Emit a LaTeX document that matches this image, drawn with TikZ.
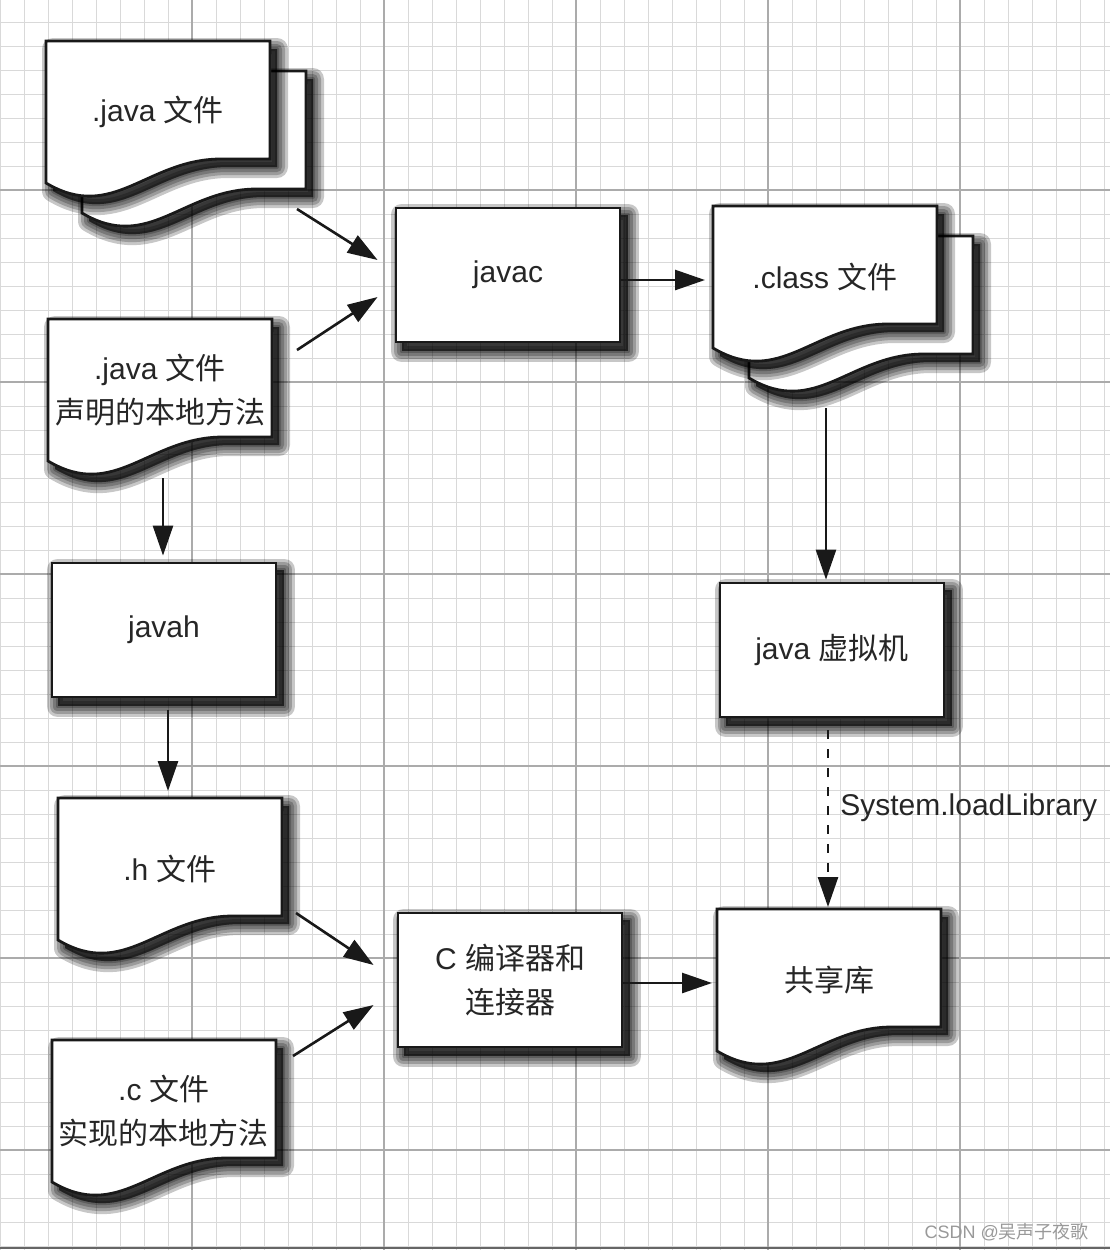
\documentclass[tikz,border=0pt]{standalone}
\usepackage{fontspec}
\setmainfont{Liberation Sans}
\newfontfamily\cjk{Noto Sans CJK SC}
\usepackage{tikz}
\usetikzlibrary{positioning,arrows.meta,calc}

\pgfdeclarelayer{grid}
\pgfdeclarelayer{shapes}
\pgfsetlayers{grid,shapes,main}

\tikzset{
  minorline/.style={draw=black!15, line width=0.5pt},
  majorline/.style={draw=black!33, line width=0.8pt},
  shadepass/.style={fill=black, draw=black, opacity=0.22, line join=round},
  procbox/.style={draw=black!90, line width=1.4pt, fill=white,
      minimum width=112pt, minimum height=67pt, align=center, text=black!85},
  docnode/.style={minimum width=112pt, minimum height=71pt, outer sep=0pt,
      inner sep=0pt, align=center, text=black!85},
  docface/.style={draw=black!90, line width=1.4pt, fill=white},
  arr/.style={line width=1.3pt, draw=black!90, -{Triangle[length=15pt,width=10pt]}},
  dasharr/.style={arr, dash pattern=on 4.5pt off 5pt},
}

% outline of a file sheet round node #1, moved by (#2,#3)
\newcommand\fileshape[3]{%
  ($(#1.north west)+(#2,#3)$) -- ($(#1.north east)+(#2,#3)$)
  -- ($(#1.south east)+(#2,#3-24)$) -- ($(#1.south east)+(#2-49,#3-24)$)
  .. controls ($(#1.south west)+(#2+101,#3-24)$) and ($(#1.south west)+(#2+67,#3+40)$)
  .. ($(#1.south west)+(#2,#3)$) -- cycle}
% soft shadow of a path
\newcommand\dropshade[1]{%
  \foreach \lw in {11pt,8pt,5pt,2pt} \path[shadepass, line width=\lw] #1;}
% shadow of a box node
\newcommand\boxshade[1]{%
  \dropshade{($(#1.north west)+(7,8)$) rectangle ($(#1.south east)+(7,8)$)}}

\begin{document}
\begin{tikzpicture}[x=0.5pt, y=-0.5pt, font=\fontsize{15}{22}\selectfont]
\useasboundingbox (0,0) rectangle (1110,1250);

% squared paper
\begin{pgfonlayer}{grid}
\fill[white] (0,0) rectangle (1110,1250);
\foreach \gx in {0,24,...,1104} \draw[minorline] (\gx,0) -- (\gx,1250);
\foreach \gy in {22,46,...,1246} \draw[minorline] (0,\gy) -- (1110,\gy);
\foreach \gx in {192,384,...,1110} \draw[majorline] (\gx,0) -- (\gx,1250);
\foreach \gy in {190,382,...,1250} \draw[majorline] (0,\gy) -- (1110,\gy);
\draw[black!60, line width=1pt] (0,1248) -- (1110,1248);
\end{pgfonlayer}

% nodes
\node[docnode] (javasrc) at (158,112) {.java {\cjk 文件}};
\node[docnode] (nativesrc) at (160,390) {.java {\cjk 文件}\\{\cjk 声明的本地方法}};
\node[procbox] (javac) at (508,275) {javac};
\node[docnode] (classfile) at (825,277) {.class {\cjk 文件}};
\node[procbox] (javah) at (164,630) {javah};
\node[docnode] (hfile) at (170,869) {.h {\cjk 文件}};
\node[procbox] (ccomp) at (510,980) {C {\cjk 编译器和}\\{\cjk 连接器}};
\node[docnode] (cfile) at (164,1111) {.c {\cjk 文件}\\{\cjk 实现的本地方法}};
\node[procbox] (jvm) at (832,650) {java {\cjk 虚拟机}};
\node[docnode] (sharedlib) at (829,980) {{\cjk 共享库}};

% file sheets and shadows
\begin{pgfonlayer}{shapes}
\foreach \b in {javac,javah,ccomp,jvm} \boxshade{\b};
\dropshade{\fileshape{javasrc}{43}{38}}
\path[docface] \fileshape{javasrc}{36}{30};
\dropshade{\fileshape{javasrc}{7}{8}}
\path[docface] \fileshape{javasrc}{0}{0};
\dropshade{\fileshape{classfile}{43}{38}}
\path[docface] \fileshape{classfile}{36}{30};
\dropshade{\fileshape{classfile}{7}{8}}
\path[docface] \fileshape{classfile}{0}{0};
\foreach \f in {nativesrc,hfile,cfile,sharedlib}{
  \dropshade{\fileshape{\f}{7}{8}}
  \path[docface] \fileshape{\f}{0}{0};
}
\end{pgfonlayer}

% connectors
\draw[arr] ($(javasrc.south east)+(27,26)$) -- ($(javac.west)+(-17,-15)$);
\draw[arr] ($(nativesrc.east)+(25,-40)$) -- ($(javac.west)+(-17,22)$);
\draw[arr] ($(javac.east)+(0,5)$) -- ($(classfile.west)+(-8,3)$);
\draw[arr] ($(classfile.south)+(1,60)$) -- ($(jvm.north)+(-6,-2)$);
\draw[arr] ($(nativesrc.south)+(3,17)$) -- ($(javah.north)+(-1,-6)$);
\draw[arr] ($(javah.south)+(4,12)$) -- ($(hfile.north)+(-2,-7)$);
\draw[arr] ($(hfile.east)+(14,44)$) -- ($(ccomp.west)+(-23,-15)$);
\draw[arr] ($(cfile.north east)+(17,16)$) -- ($(ccomp.west)+(-23,25)$);
\draw[arr] ($(ccomp.east)+(0,3)$) -- ($(sharedlib.west)+(-5,3)$);
\draw[dasharr] ($(jvm.south)+(-4,12)$) -- ($(sharedlib.north)+(-1,-2)$)
  node[pos=0.44, anchor=west, inner sep=0pt, xshift=5.5pt, text=black!85] (loadlib) {System.loadLibrary};

\node[text=black!40, font=\fontsize{9}{11}\selectfont, anchor=east] (mark) at (1096,1232) {CSDN @{\cjk 吴声子夜歌}};
\end{tikzpicture}
\end{document}
